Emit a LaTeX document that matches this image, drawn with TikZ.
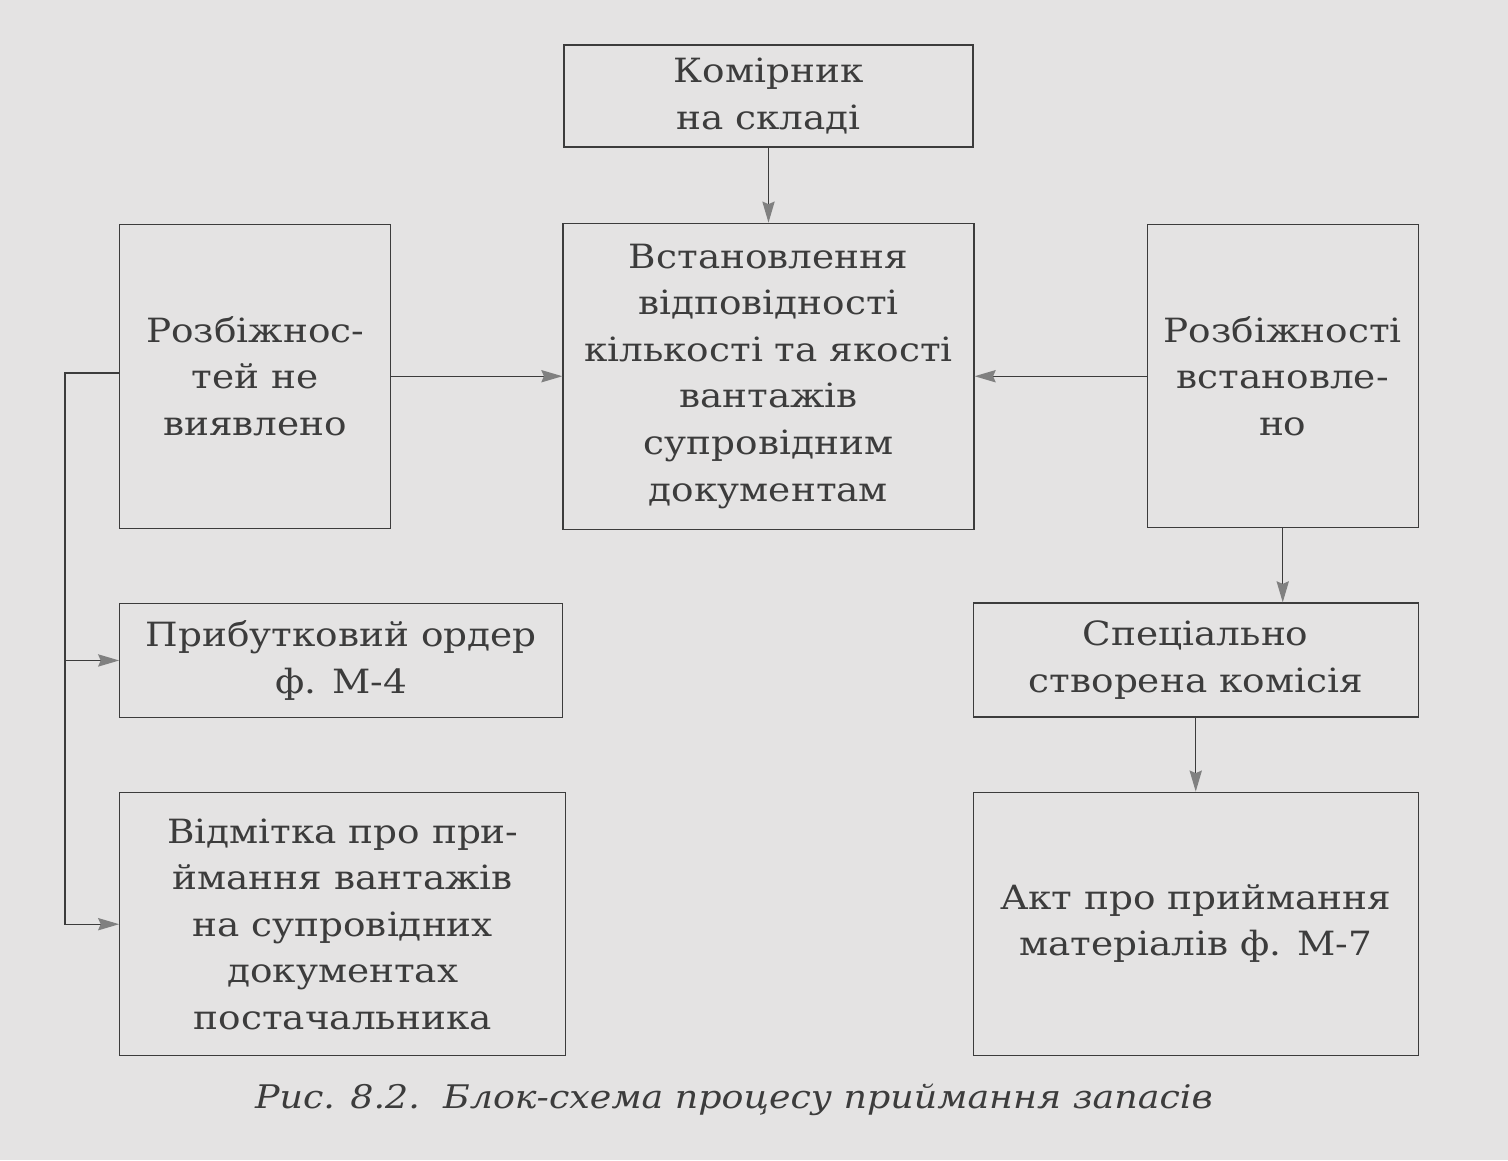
\documentclass[tikz,border=0pt]{standalone}
\usepackage{fontspec}
\setmainfont{DejaVu Serif}[FakeStretch=1.12]
\usetikzlibrary{positioning,arrows.meta}

\definecolor{paper}{HTML}{E4E3E3}
\definecolor{ink}{HTML}{3C3C3C}

\begin{document}
\begin{tikzpicture}[
    node distance=1.5cm,
    block/.style={rectangle, draw=ink, line width=0.7pt, text=ink, align=center, inner sep=0pt, font=\fontsize{19}{26.5}\selectfont},
    arrow/.style={draw=ink, line width=0.7pt, -{Stealth[length=12pt,width=7pt,inset=1.5pt,color=gray]}}
]
% Paper
\fill[paper] (0,0) rectangle (30.16,-23.2);
\useasboundingbox (0,0) rectangle (30.16,-23.2);

% Nodes
\node[block, minimum width=8.18cm, minimum height=2.04cm] (kom) at (15.37,-1.92) {Комірник\\на складі};
\node[block, below=of kom, minimum width=8.22cm, minimum height=6.12cm] (vst) {Встановлення\\відповідності\\кількості та якості\\вантажів\\супровідним\\документам};
\node[block, left=3.42cm of vst, minimum width=5.42cm, minimum height=6.08cm] (nevyav) {Розбіжнос-\\тей не\\виявлено};
\node[block, right=3.44cm of vst, minimum width=5.42cm, minimum height=6.06cm] (vstan) {Розбіжності\\встановле-\\но};
\node[block, below=1.48cm of nevyav.south west, anchor=north west, minimum width=8.86cm, minimum height=2.28cm] (prybut) {Прибутковий ордер\\ф. М-4};
\node[block, below=1.48cm of prybut.south west, anchor=north west, minimum width=8.92cm, minimum height=5.26cm] (vidm) {Відмітка про при-\\ймання вантажів\\на супровідних\\документах\\постачальника};
\node[block, below=1.48cm of vstan.south east, anchor=north east, minimum width=8.9cm, minimum height=2.28cm] (spec) {Спеціально\\створена комісія};
\node[block, below=1.48cm of spec.south east, anchor=north east, minimum width=8.9cm, minimum height=5.26cm] (akt) {Акт про приймання\\матеріалів ф. М-7};
\node[text=ink, font=\fontsize{18.5}{22}\selectfont\itshape] (caption) at (14.68,-22.0) {Рис. 8.2.\ \ Блок-схема процесу приймання запасів};

% Arrows
\coordinate (bus) at (1.3,-7.46);
\draw[arrow] (kom) -- (vst);
\draw[arrow] (nevyav) -- (vst);
\draw[arrow] (vstan) -- (vst);
\draw[arrow] (nevyav.west |- bus) -- (bus) |- (vidm.west);
\draw[arrow] (bus) |- (prybut.west);
\draw[arrow] (vstan.south) -- (vstan.south |- spec.north);
\draw[arrow] (spec) -- (akt);
\end{tikzpicture}
\end{document}
